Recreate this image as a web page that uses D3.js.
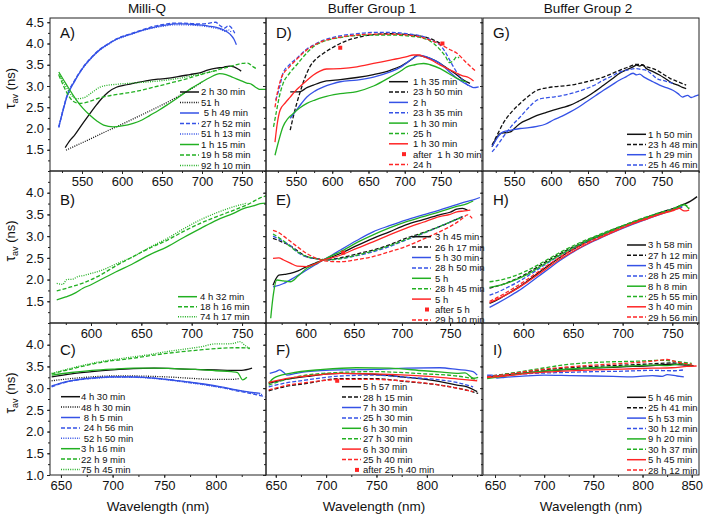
<!DOCTYPE html>
<html><head><meta charset="utf-8">
<script src="https://cdn.jsdelivr.net/npm/d3@7"></script>
<style>body{margin:0;background:#fff} svg{display:block} text{font-family:"Liberation Sans",Arial,sans-serif;fill:#111}</style>
</head><body><svg id="c" width="709" height="517"></svg>
<script>
// ---------------- DATA ----------------
const columnTitles = ["Milli-Q", "Buffer Group 1", "Buffer Group 2"];
const panelLetters = ["A)", "D)", "G)", "B)", "E)", "H)", "C)", "F)", "I)"];
const yTicksRow = [[1.5,2.0,2.5,3.0,3.5,4.0,4.5],[1.5,2.0,2.5,3.0,3.5,4.0],[1.0,1.5,2.0,2.5,3.0,3.5,4.0]];
const xTicksA = [550,600,650,700,750];
const xTicksB = [600,650,700,750];
const xTicksC = [650,700,750,800];
const xTicksI = [650,700,750,800,850];

// Panel A (Milli-Q)
const legendA = ["2 h 30 min","51 h"," 5 h 49 min","27 h 52 min","51 h 13 min","1 h 15 min","19 h 58 min","92 h 10 min"];
const A1 = [[529,1.55],[535,1.72],[541,1.85],[548,2.04],[556,2.25],[565,2.48],[573,2.67],[583,2.86],[593,2.97],[603,3.02],[614,3.06],[630,3.12],[645,3.16],[656,3.18],[670,3.22],[685,3.27],[697,3.31],[708,3.38],[718,3.42],[727,3.44],[734,3.47],[740,3.45],[745,3.40],[749,3.35]];
const A2 = [[530,1.49],[545,1.62],[560,1.75],[580,1.93],[600,2.1],[620,2.28],[640,2.46],[660,2.65],[680,2.86],[700,3.09]];
const A3 = [[521,2.04],[526,2.4],[531,2.74],[541,3.12],[552,3.45],[562,3.67],[572,3.85],[583,3.99],[593,4.1],[604,4.18],[614,4.24],[625,4.31],[635,4.36],[646,4.41],[656,4.44],[666,4.46],[676,4.46],[687,4.45],[697,4.44],[708,4.41],[718,4.38],[727,4.32],[735,4.22],[740,4.1],[743,3.97]];
const A4 = [[521,2.02],[526,2.42],[531,2.76],[541,3.14],[552,3.46],[562,3.68],[572,3.86],[583,4.0],[593,4.11],[604,4.19],[614,4.25],[625,4.32],[635,4.38],[646,4.43],[656,4.46],[666,4.48],[676,4.48],[687,4.47],[697,4.46],[706,4.47],[712,4.49],[717,4.5],[722,4.43],[728,4.36],[733,4.42],[736,4.39],[741,4.24]];
const A5 = [[521,2.05],[526,2.42],[531,2.75],[541,3.12],[552,3.44],[562,3.66],[572,3.84],[583,3.98],[593,4.09],[604,4.17],[614,4.23],[625,4.3],[635,4.35],[646,4.39],[656,4.42],[666,4.44],[676,4.44],[687,4.43],[697,4.42],[706,4.4],[714,4.37],[722,4.34],[728,4.29],[733,4.32],[737,4.25]];
const A6 = [[521,3.33],[530,3.05],[543,2.67],[551,2.48],[560,2.31],[569,2.17],[577,2.08],[589,2.04],[600,2.06],[614,2.12],[625,2.2],[635,2.31],[646,2.43],[656,2.55],[667,2.69],[677,2.82],[687,2.95],[697,3.06],[710,3.2],[722,3.29],[730,3.27],[739,3.2],[747,3.14],[756,3.07],[762,3.04],[768,2.96],[772,2.92],[780,2.92]];
const A7 = [[521,3.26],[527,3.0],[533,2.78],[539,2.64],[547,2.59],[560,2.64],[572,2.72],[590,2.79],[614,2.86],[635,2.95],[656,3.05],[677,3.15],[697,3.26],[718,3.37],[739,3.48],[750,3.53],[757,3.54],[764,3.45],[768,3.41]];
const A8 = [[521,3.28],[530,2.98],[537,2.78],[543,2.7],[552,2.72],[562,2.84],[572,2.97],[583,3.02],[593,3.04],[614,3.07],[635,3.1],[656,3.14],[677,3.2],[697,3.28],[710,3.33],[720,3.37]];
const seriesA = [A1,A2,A3,A4,A5,A6,A7,A8];
const styleA = ["k-","k:","b-","b--","b:","g-","g--","g:"];

// Panel D (Buffer Group 1)
const legendD = ["1 h 35 min","23 h 50 min","2 h","23 h 35 min","1 h 30 min","25 h","1 h 30 min","after  1 h 30 min","24 h"];
const D1 = [[542,2.86],[550,2.86],[556,2.87],[565,2.96],[574,3.02],[583,3.08],[592,3.12],[611,3.15],[634,3.2],[657,3.27],[680,3.37],[695,3.47],[703,3.55],[712,3.66],[717,3.72],[725,3.7],[735,3.65],[749,3.53],[760,3.4],[772,3.26],[780,3.15],[790,3.06]];
const D2 = [[542,1.96],[548,2.4],[555,2.82],[562,3.18],[569,3.45],[578,3.64],[588,3.77],[600,3.9],[611,4.0],[622,4.08],[634,4.14],[645,4.18],[657,4.21],[680,4.23],[703,4.21],[726,4.16],[740,4.08],[749,4.0]];
const D3 = [[542,2.24],[550,2.42],[558,2.6],[565,2.74],[576,2.88],[588,2.98],[600,3.05],[611,3.1],[634,3.14],[657,3.21],[680,3.33],[695,3.45],[703,3.55],[712,3.66],[720,3.72],[728,3.7],[735,3.65],[749,3.53],[760,3.36],[772,3.18],[782,3.07],[790,3.0],[795,2.96],[802,2.98]];
const D4 = [[522,2.67],[527,2.95],[532,3.3],[541,3.5],[551,3.65],[565,3.87],[576,3.98],[588,4.08],[600,4.14],[611,4.18],[634,4.23],[657,4.26],[680,4.26],[703,4.23],[726,4.16],[740,4.05],[749,3.96],[756,3.8],[762,3.61],[769,3.4],[776,3.22],[783,3.08],[790,2.98]];
const D5 = [[521,1.37],[526,1.7],[532,2.04],[539,2.24],[546,2.35],[555,2.48],[565,2.59],[576,2.67],[588,2.74],[611,2.82],[634,2.87],[657,3.0],[680,3.21],[695,3.36],[703,3.45],[714,3.5],[720,3.52],[726,3.53],[735,3.5],[749,3.41],[760,3.3],[772,3.18],[780,3.12],[785,3.1]];
const D6 = [[519,2.04],[523,2.4],[527,2.75],[532,3.05],[541,3.3],[551,3.5],[565,3.78],[576,3.95],[588,4.05],[611,4.14],[634,4.19],[657,4.2],[680,4.2],[703,4.18],[726,4.12],[740,4.0],[749,3.85],[756,3.7],[762,3.55],[767,3.6],[772,3.69],[775,3.66]];
const D7 = [[521,1.68],[524,2.1],[528,2.43],[535,2.6],[542,2.74],[549,2.88],[555,2.98],[565,3.13],[574,3.26],[583,3.35],[592,3.4],[611,3.41],[634,3.45],[657,3.53],[680,3.61],[703,3.69],[712,3.73],[720,3.73],[726,3.69],[738,3.6],[749,3.49],[760,3.4],[772,3.3],[780,3.24],[788,3.2],[795,3.12]];
const D8 = [[611,3.9],[752,4.0]];
const D9 = [[521,2.5],[525,2.9],[530,3.2],[541,3.45],[551,3.63],[565,3.85],[576,3.97],[588,4.06],[611,4.15],[634,4.2],[657,4.22],[680,4.22],[703,4.2],[726,4.13],[749,3.98],[762,3.86],[772,3.77],[785,3.55],[799,3.33]];
const seriesD = [D1,D2,D3,D4,D5,D6,D7,D8,D9];
const styleD = ["k-","k--","b-","b--","g-","g--","r-","rs","r--"];

// Panel G (Buffer Group 2)
const legendG = ["1 h 50 min","23 h 48 min","1 h 29 min","25 h 46 min"];
const G1 = [[520,1.57],[525,1.75],[531,1.88],[538,1.9],[545,1.92],[552,2.03],[558,2.12],[570,2.22],[581,2.31],[592,2.37],[603,2.43],[615,2.49],[626,2.55],[637,2.64],[648,2.74],[660,2.88],[671,3.02],[682,3.16],[693,3.3],[702,3.38],[711,3.45],[716,3.49],[720,3.47],[724,3.5],[729,3.41],[738,3.34],[747,3.26],[756,3.16],[765,3.06],[772,3.02],[778,2.97],[783,2.94]];
const G2 = [[520,1.61],[527,1.85],[535,2.12],[546,2.38],[558,2.59],[570,2.77],[581,2.9],[592,2.95],[603,2.98],[626,3.02],[648,3.1],[671,3.21],[693,3.37],[705,3.45],[716,3.51],[722,3.5],[729,3.45],[738,3.41],[750,3.3],[761,3.18],[772,3.1],[783,3.02]];
const G3 = [[520,1.57],[527,1.78],[535,1.92],[546,1.96],[558,2.0],[570,2.02],[581,2.05],[592,2.1],[603,2.2],[615,2.29],[626,2.39],[637,2.5],[648,2.63],[660,2.77],[671,2.9],[682,3.02],[693,3.14],[702,3.22],[711,3.3],[716,3.26],[720,3.28],[725,3.22],[729,3.18],[738,3.1],[747,3.02],[756,2.96],[765,2.9],[772,2.82],[778,2.74],[785,2.78],[790,2.73],[795,2.76],[800,2.79]];
const G4 = [[520,1.45],[527,1.6],[535,1.8],[546,2.05],[558,2.27],[570,2.5],[581,2.67],[592,2.72],[603,2.74],[626,2.82],[648,2.94],[660,3.03],[671,3.14],[682,3.23],[693,3.33],[705,3.38],[716,3.41],[722,3.39],[729,3.37],[736,3.28],[743,3.18],[754,3.12],[765,3.06]];
const seriesG = [G1,G2,G3,G4];
const styleG = ["k-","k--","b-","b--"];

// Panel B
const legendB = ["4 h 32 min","18 h 16 min","74 h 17 min"];
const B1 = [[566,1.53],[575,1.6],[585,1.7],[592,1.8],[600,1.88],[609,1.99],[625,2.18],[642,2.37],[658,2.57],[676,2.76],[692,2.97],[709,3.18],[725,3.37],[742,3.53],[752,3.64],[762,3.7],[768,3.75],[774,3.76]];
const B2 = [[566,1.74],[580,1.83],[592,1.92],[609,2.1],[625,2.32],[642,2.53],[658,2.72],[676,2.91],[692,3.11],[709,3.3],[725,3.45],[742,3.6],[755,3.72],[768,3.88],[774,3.93]];
const B3 = [[566,1.91],[572,1.89],[576,2.0],[582,2.01],[587,2.07],[592,2.09],[600,2.14],[609,2.2],[625,2.36],[642,2.53],[658,2.74],[676,2.95],[692,3.17],[709,3.38],[725,3.54],[742,3.68],[755,3.76]];
const seriesB = [B1,B2,B3];
const styleB = ["g-","g--","g:"];

// Panel E
const legendE = ["3 h 45 min","26 h 17 min","5 h 30 min","28 h 50 min","5 h","28 h 45 min","5 h","after 5 h","29 h 10 min"];
const E1 = [[566,1.87],[569,2.02],[572,2.1],[578,2.12],[584,2.14],[592,2.2],[601,2.3],[610,2.38],[618,2.45],[627,2.52],[636,2.6],[653,2.78],[670,2.95],[687,3.1],[704,3.26],[722,3.38],[739,3.49],[750,3.55],[757,3.62],[763,3.64],[768,3.6]];
const E2 = [[566,2.95],[575,2.87],[584,2.78],[592,2.65],[601,2.53],[611,2.48],[620,2.46],[636,2.5],[653,2.59],[670,2.68],[687,2.8],[704,2.95],[722,3.08],[739,3.22],[756,3.38],[763,3.45]];
const E3 = [[566,1.83],[577,1.91],[589,2.06],[601,2.22],[610,2.34],[618,2.45],[627,2.56],[636,2.68],[653,2.9],[670,3.1],[687,3.24],[704,3.37],[722,3.49],[739,3.6],[756,3.72],[768,3.8],[775,3.84],[781,3.89]];
const E4 = [[566,3.0],[575,2.9],[584,2.78],[592,2.62],[601,2.52],[611,2.48],[620,2.45],[636,2.48],[653,2.55],[670,2.64],[687,2.76],[704,2.91],[722,3.06],[739,3.22],[756,3.38],[763,3.45]];
const E5 = [[563.6,1.11],[566,1.6],[570,1.99],[577,1.97],[584,1.95],[592,2.08],[601,2.26],[610,2.36],[618,2.45],[627,2.55],[636,2.64],[653,2.85],[670,3.03],[687,3.19],[704,3.33],[722,3.45],[739,3.56],[756,3.68],[768,3.75],[774,3.81]];
const E6 = [[566,3.05],[575,2.92],[584,2.76],[592,2.63],[601,2.53],[611,2.48],[620,2.45],[636,2.48],[653,2.56],[670,2.66],[687,2.78],[704,2.92],[722,3.07],[739,3.22],[756,3.38],[763,3.44]];
const E7 = [[566,2.49],[572,2.5],[577,2.45],[584,2.38],[591,2.31],[601,2.3],[610,2.36],[618,2.45],[627,2.5],[636,2.56],[653,2.72],[670,2.87],[687,3.03],[704,3.18],[722,3.32],[739,3.45],[750,3.5],[757,3.56],[765,3.58],[771,3.6]];
const E8 = [[639,2.62]];
const E9 = [[566,3.13],[572,3.08],[577,3.0],[584,2.88],[591,2.76],[601,2.6],[611,2.49],[620,2.43],[636,2.41],[653,2.46],[670,2.53],[687,2.64],[704,2.76],[722,2.93],[739,3.1],[756,3.3],[763,3.41],[768,3.49],[773,3.41]];
const seriesE = [E1,E2,E3,E4,E5,E6,E7,E8,E9];
const styleE = ["k-","k--","b-","b--","g-","g--","r-","rs","r--"];

// Panel H
const legendH = ["3 h 58 min","27 h 12 min","3 h 45 min","28 h 25 min","8 h 8 min","25 h 55 min","3 h 40 min","29 h 56 min"];
const H1 = [[566,1.45],[575,1.55],[585,1.68],[595,1.82],[605,1.98],[615,2.15],[625,2.32],[635,2.48],[645,2.63],[655,2.76],[665,2.88],[680,3.03],[695,3.18],[710,3.32],[725,3.44],[740,3.55],[750,3.62],[760,3.72],[768,3.8],[775,3.91]];
const H2 = [[566,1.8],[575,1.86],[585,1.94],[595,2.04],[605,2.16],[615,2.3],[625,2.44],[635,2.57],[645,2.69],[655,2.8],[665,2.91],[680,3.05],[695,3.19],[710,3.32],[725,3.44],[740,3.56],[750,3.63],[760,3.7]];
const H3 = [[566,1.36],[575,1.47],[585,1.6],[595,1.74],[605,1.9],[615,2.07],[625,2.24],[635,2.41],[645,2.56],[655,2.7],[665,2.82],[680,2.98],[695,3.13],[710,3.27],[725,3.4],[740,3.52],[750,3.6],[760,3.66]];
const H4 = [[566,1.64],[575,1.72],[585,1.83],[595,1.95],[605,2.09],[615,2.24],[625,2.39],[635,2.53],[645,2.66],[655,2.78],[665,2.89],[680,3.04],[695,3.18],[710,3.31],[725,3.43],[740,3.55],[750,3.62],[760,3.68]];
const H5 = [[566,1.82],[575,1.86],[585,1.93],[595,2.02],[605,2.13],[615,2.27],[625,2.41],[635,2.54],[645,2.67],[655,2.79],[665,2.9],[680,3.04],[695,3.18],[710,3.31],[725,3.43],[740,3.54],[750,3.6],[757,3.68],[762,3.72],[767,3.62]];
const H6 = [[566,1.95],[575,1.98],[585,2.04],[595,2.12],[605,2.22],[615,2.34],[625,2.47],[635,2.6],[645,2.72],[655,2.83],[665,2.93],[680,3.07],[695,3.2],[710,3.33],[725,3.45],[740,3.56],[750,3.62],[757,3.7],[762,3.73],[767,3.64]];
const H7 = [[566,1.47],[575,1.56],[585,1.68],[595,1.81],[605,1.96],[615,2.12],[625,2.28],[635,2.44],[645,2.58],[655,2.71],[665,2.83],[680,2.99],[695,3.14],[710,3.28],[725,3.4],[740,3.52],[750,3.58],[757,3.64],[762,3.58],[767,3.6]];
const H8 = [[566,1.5],[575,1.6],[585,1.73],[595,1.87],[605,2.02],[615,2.18],[625,2.34],[635,2.49],[645,2.63],[655,2.75],[665,2.86],[680,3.01],[695,3.16],[710,3.3],[725,3.42],[740,3.53],[750,3.6],[760,3.66]];
const seriesH = [H1,H2,H3,H4,H5,H6,H7,H8];
const styleH = ["k-","k--","b-","b--","g-","g--","r-","r--"];

// Panel C
const legendC = ["4 h 30 min","48 h 30 min"," 8 h 5 min"," 24 h 56 min"," 52 h 50 min","3 h 16 min","22 h 9 min","75 h 45 min"];
const C1 = [[641,3.26],[660,3.33],[680,3.38],[700,3.42],[720,3.45],[740,3.46],[760,3.45],[780,3.43],[800,3.42],[815,3.41],[825,3.41],[835,3.46]];
const C2 = [[641,3.17],[660,3.22],[680,3.26],[700,3.28],[720,3.28],[740,3.27],[760,3.25],[780,3.22],[800,3.2],[815,3.2],[822,3.22]];
const C3 = [[641,3.05],[655,3.15],[670,3.21],[685,3.24],[700,3.26],[715,3.26],[730,3.25],[745,3.22],[760,3.18],[775,3.14],[790,3.09],[805,3.03],[820,2.96],[835,2.9],[843,2.88]];
const C4 = [[641,3.03],[655,3.14],[670,3.2],[685,3.24],[700,3.26],[715,3.26],[730,3.25],[745,3.22],[760,3.18],[775,3.13],[790,3.08],[805,3.02],[820,2.94],[835,2.87],[848,2.8]];
const C5 = [[641,3.04],[655,3.14],[670,3.2],[685,3.23],[700,3.25],[715,3.25],[730,3.24],[745,3.21],[760,3.17],[775,3.12],[790,3.07],[805,3.01],[820,2.95],[835,2.89],[845,2.85]];
const C6 = [[641,3.3],[660,3.36],[680,3.41],[700,3.44],[720,3.46],[740,3.46],[760,3.45],[780,3.43],[800,3.4],[815,3.38],[821,3.36],[826,3.19],[830,3.25]];
const C7 = [[641,3.33],[660,3.44],[688,3.59],[720,3.69],[752,3.8],[785,3.88],[800,3.91],[817,3.93],[825,3.93],[833,3.92]];
const C8 = [[641,3.34],[660,3.46],[688,3.61],[705,3.67],[720,3.72],[735,3.77],[752,3.84],[770,3.9],[785,3.95],[800,4.02],[810,4.02],[817,4.03],[823,4.07],[828,3.99],[833,3.89]];
const seriesC = [C1,C2,C3,C4,C5,C6,C7,C8];
const styleC = ["k-","k:","b-","b--","b:","g-","g--","g:"];

// Panel F
const legendF = ["5 h 57 min","28 h 15 min","7 h 30 min","25 h 30 min","6 h 30 min","27 h 30 min","6 h 30 min","25 h 40 min","after 25 h 40 min"];
const F1 = [[643,3.11],[660,3.2],[681,3.27],[714,3.34],[747,3.32],[780,3.25],[813,3.15],[830,3.07],[840,3.03],[850,2.92]];
const F2 = [[643,2.94],[660,3.04],[681,3.11],[714,3.22],[747,3.22],[780,3.15],[813,3.07],[840,2.95],[851,2.88]];
const F3 = [[644,3.34],[650,3.38],[654,3.42],[658,3.36],[661,3.3],[670,3.34],[681,3.38],[714,3.42],[747,3.43],[780,3.46],[813,3.47],[830,3.43],[846,3.38],[850,3.3]];
const F4 = [[643,3.03],[660,3.12],[681,3.19],[714,3.28],[747,3.3],[780,3.25],[813,3.19],[830,3.13],[846,3.03]];
const F5 = [[643,3.11],[648,3.23],[664,3.34],[697,3.43],[730,3.47],[763,3.46],[797,3.4],[815,3.37],[830,3.34],[838,3.35],[846,3.23],[851,3.25]];
const F6 = [[643,3.07],[660,3.2],[697,3.34],[747,3.38],[797,3.33],[830,3.28],[850,3.2]];
const F7 = [[643,3.13],[660,3.22],[681,3.28],[714,3.34],[747,3.33],[780,3.3],[813,3.25],[840,3.19],[850,3.17]];
const F8 = [[643,2.96],[660,3.06],[681,3.13],[714,3.2],[747,3.2],[780,3.16],[813,3.07],[846,2.92]];
const F9 = [[711,3.17]];
const seriesF = [F1,F2,F3,F4,F5,F6,F7,F8,F9];
const styleF = ["k-","k--","b-","b--","g-","g--","r-","r--","rs"];

// Panel I
const legendI = ["5 h 46 min","25 h 41 min","5 h 53 min","30 h 12 min","9 h 20 min","30 h 37 min","5 h 45 min","28 h 12 min"];
const I1 = [[642,3.25],[660,3.3],[690,3.37],[720,3.42],[750,3.46],[780,3.49],[810,3.52],[830,3.55],[845,3.53],[852,3.52]];
const I2 = [[642,3.27],[660,3.32],[690,3.4],[720,3.46],[750,3.5],[780,3.53],[810,3.56],[830,3.58],[845,3.55]];
const I3 = [[642,3.3],[647,3.3],[652,3.23],[660,3.25],[675,3.27],[700,3.3],[726,3.29],[750,3.28],[770,3.27],[790,3.26],[810,3.29],[820,3.27],[825,3.31],[835,3.28],[842,3.26]];
const I4 = [[642,3.27],[660,3.3],[690,3.34],[720,3.36],[750,3.38],[780,3.39],[810,3.41],[830,3.4],[842,3.42]];
const I5 = [[642,3.22],[660,3.28],[690,3.37],[720,3.43],[750,3.47],[780,3.5],[810,3.53],[825,3.52],[840,3.56],[850,3.53]];
const I6 = [[642,3.25],[660,3.32],[690,3.43],[726,3.55],[760,3.6],[794,3.62],[820,3.64],[840,3.6],[850,3.57]];
const I7 = [[642,3.24],[660,3.28],[690,3.35],[720,3.39],[750,3.42],[780,3.44],[810,3.46],[830,3.47],[845,3.5],[855,3.51]];
const I8 = [[642,3.26],[660,3.31],[690,3.41],[720,3.48],[750,3.53],[780,3.57],[810,3.62],[825,3.66],[835,3.6],[850,3.55]];
const seriesI = [I1,I2,I3,I4,I5,I6,I7,I8];
const styleI = ["k-","k--","b-","b--","g-","g--","r-","r--"];

// ---------------- LAYOUT ----------------
const colors = {k:"#111111", b:"#3552e6", g:"#22b022", r:"#ff2525"};
const dashes = {"-":null, "--":"4,2", ":":"1,1.3"};
const colX = [50, 266, 483], colW = 216;
const rowY = [18, 171, 323], rowH = [153, 152, 152];
const yDom = [[1.0,4.6],[1.0,4.5],[1.0,4.5]];

const panels = [
  {r:0,c:0,xd:[510,780],xt:xTicksA,s:seriesA,st:styleA,lg:legendA,L:[180,92,10.5,21]},
  {r:0,c:1,xd:[508.6,806.6],xt:xTicksA,s:seriesD,st:styleD,lg:legendD,L:[389,81.7,10.35,24]},
  {r:0,c:2,xd:[507.7,800.4],xt:xTicksA,s:seriesG,st:styleG,lg:legendG,L:[627,134.3,10.2,21]},
  {r:1,c:0,xd:[559.3,773.8],xt:xTicksB,s:seriesB,st:styleB,lg:legendB,L:[178,296.7,10,22]},
  {r:1,c:1,xd:[558.7,783.2],xt:xTicksB,s:seriesE,st:styleE,lg:legendE,L:[412,236.7,10.4,23]},
  {r:1,c:2,xd:[559.4,776.9],xt:xTicksB,s:seriesH,st:styleH,lg:legendH,L:[627,245,10.3,21]},
  {r:2,c:0,xd:[639.4,848.5],xt:xTicksC,s:seriesC,st:styleC,lg:legendC,L:[61,396.7,10.4,20]},
  {r:2,c:1,xd:[640.3,854.8],xt:xTicksC,s:seriesF,st:styleF,lg:legendF,L:[342,386.7,10.4,21]},
  {r:2,c:2,xd:[637.8,857.4],xt:xTicksI,s:seriesI,st:styleI,lg:legendI,L:[627,397.3,10.4,21]}
];
const letterY = [38, 205, 355];

const svg = d3.select("#c");
const defs = svg.append("defs");

function parseStyle(s){ return {col:colors[s[0]], dash:dashes[s.slice(1)], marker:s.slice(1)==="s"}; }

panels.forEach((p,i)=>{
  const x0 = colX[p.c], y0 = rowY[p.r], h = rowH[p.r];
  const xs = d3.scaleLinear().domain(p.xd).range([x0, x0+colW]);
  const ys = d3.scaleLinear().domain(yDom[p.r]).range([y0+h, y0]);
  const cid = "clip"+i;
  defs.append("clipPath").attr("id",cid).append("rect").attr("x",x0).attr("y",y0).attr("width",colW).attr("height",h);
  const g = svg.append("g");
  const dg = g.append("g").attr("clip-path",`url(#${cid})`);
  const line = d3.line().x(d=>xs(d[0])).y(d=>ys(d[1])).curve(d3.curveMonotoneX);
  p.s.forEach((ser,k)=>{
    const st = parseStyle(p.st[k]);
    if(st.marker){
      dg.selectAll(null).data(ser).enter().append("rect")
        .attr("x",d=>xs(d[0])-2).attr("y",d=>ys(d[1])-2).attr("width",4).attr("height",4).attr("fill",st.col);
    } else {
      dg.append("path").datum(ser).attr("d",line).attr("fill","none")
        .attr("stroke",st.col).attr("stroke-width",1.3).attr("stroke-dasharray",st.dash);
    }
  });
  g.append("rect").attr("x",x0).attr("y",y0).attr("width",colW).attr("height",h)
    .attr("fill","none").attr("stroke","#222").attr("stroke-width",1);
  const minorX = d3.range(Math.ceil(p.xd[0]/25)*25, p.xd[1], 25);
  const xa = g.append("g").attr("transform",`translate(0,${y0+h})`)
    .call(d3.axisBottom(xs).tickValues(p.xt).tickSize(3).tickPadding(3).tickFormat(d3.format("d")));
  xa.select(".domain").remove();
  xa.selectAll("text").attr("font-size",13).attr("fill","#111");
  xa.selectAll("line").attr("stroke","#222");
  g.append("g").attr("transform",`translate(0,${y0+h})`)
    .call(d3.axisBottom(xs).tickValues(minorX).tickSize(2).tickFormat(""))
    .call(s=>s.select(".domain").remove()).selectAll("line").attr("stroke","#222");
  const ya = g.append("g").attr("transform",`translate(${x0},0)`)
    .call(d3.axisLeft(ys).tickValues(yTicksRow[p.r]).tickSize(3).tickPadding(3)
      .tickFormat(p.c===0 ? d3.format(".1f") : ""));
  ya.select(".domain").remove();
  ya.selectAll("text").attr("font-size",13).attr("fill","#111");
  ya.selectAll("line").attr("stroke","#222");
  const minorY = d3.range(yDom[p.r][0], yDom[p.r][1]+0.001, 0.25);
  g.append("g").attr("transform",`translate(${x0},0)`)
    .call(d3.axisLeft(ys).tickValues(minorY).tickSize(2).tickFormat(""))
    .call(s=>s.select(".domain").remove()).selectAll("line").attr("stroke","#222");
  g.append("text").attr("x",x0+10).attr("y",letterY[p.r]).attr("font-size",15).text(panelLetters[i]);
  const [lx,ly,ls,tx] = p.L;
  p.lg.forEach((t,k)=>{
    const st = parseStyle(p.st[k]);
    const yy = ly + k*ls;
    if(st.marker){
      g.append("rect").attr("x",lx+15-2).attr("y",yy-2).attr("width",4).attr("height",4).attr("fill",st.col);
    } else {
      g.append("line").attr("x1",lx).attr("x2",lx+19).attr("y1",yy).attr("y2",yy)
        .attr("stroke",st.col).attr("stroke-width",1.5).attr("stroke-dasharray",st.dash);
    }
    g.append("text").attr("x",lx+tx).attr("y",yy+3.4).attr("font-size",9.5).style("white-space","pre").text(t);
  });
});

const titleX = [147, 372, 588];
columnTitles.forEach((t,i)=>{
  svg.append("text").attr("x",titleX[i]).attr("y",13).attr("text-anchor","middle").attr("font-size",13.5).text(t);
  svg.append("text").attr("x",colX[i]+colW/2).attr("y",511).attr("text-anchor","middle").attr("font-size",13.5).text("Wavelength (nm)");
});
rowY.forEach((y,r)=>{
  const cy = y + rowH[r]/2 - 6;
  const t = svg.append("text").attr("transform",`translate(15,${cy}) rotate(-90)`).attr("text-anchor","middle").attr("font-size",13);
  t.append("tspan").attr("font-size",14).text("τ");
  t.append("tspan").attr("font-size",9).attr("dy",3).text("av");
  t.append("tspan").attr("dy",-3).text(" (ns)");
});
</script></body></html>
